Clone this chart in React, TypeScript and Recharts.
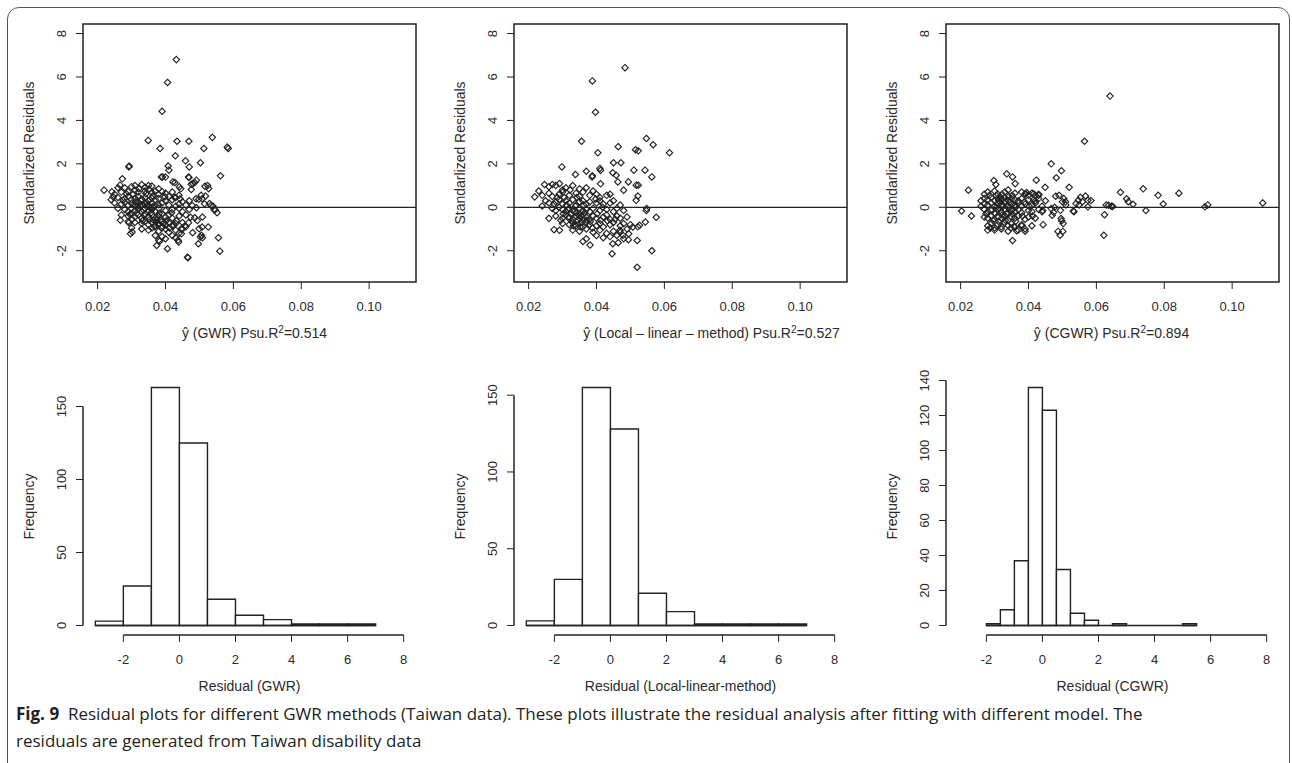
import React from 'react';
import {
  ScatterChart,
  Scatter,
  ComposedChart,
  XAxis,
  YAxis,
  ReferenceLine,
  ReferenceArea,
} from 'recharts';

const FONT = '"Liberation Sans", Arial, sans-serif';
const INK = '#222';

// axis ticks
const fittedTicks = [0.02, 0.04, 0.06, 0.08, 0.1];
const residTicks = [-2, 0, 2, 4, 6, 8];
const histXTicks = [-2, 0, 2, 4, 6, 8];
const gwrFreqTicks = [0, 50, 100, 150];
const llmFreqTicks = [0, 50, 100, 150];
const cgwrFreqTicks = [0, 20, 40, 60, 80, 100, 120, 140];

// fitted value (y-hat) vs standardized residual
const gwrPoints: [number, number][] = [
  [0.0432, 6.8], [0.0406, 5.75], [0.039, 4.42], [0.0349, 3.08], [0.0384, 2.71], [0.0434, 3.04],
  [0.0469, 3.04], [0.0538, 3.22], [0.0513, 2.71], [0.0585, 2.71], [0.0582, 2.77], [0.0429, 2.37],
  [0.0459, 2.14], [0.047, 1.86], [0.0503, 2.05], [0.0408, 1.9], [0.041, 1.71], [0.0292, 1.86],
  [0.0293, 1.9], [0.0388, 1.39], [0.04, 1.39], [0.0422, 1.17], [0.0469, 1.37], [0.0491, 1.25],
  [0.0481, 1.09], [0.0562, 1.45], [0.0273, 1.31], [0.0219, 0.79], [0.0524, 1.0], [0.0527, 0.86],
  [0.0445, 0.85], [0.0476, 0.82], [0.0518, 0.52], [0.0498, 0.37], [0.0508, 0.39], [0.053, 0.17],
  [0.054, 0.05], [0.0546, -0.11], [0.0552, -0.25], [0.0491, -0.02], [0.0509, -0.45], [0.0486, -0.48],
  [0.0526, -0.91], [0.0499, -0.99], [0.0506, -1.29], [0.0509, -1.4], [0.048, -1.17], [0.0497, -1.68],
  [0.0556, -1.4], [0.056, -2.02], [0.0465, -2.3], [0.0466, -2.32], [0.0406, -1.91], [0.0374, -1.76],
  [0.0383, -1.56], [0.0439, -1.6], [0.0297, -1.22], [0.0302, -1.14], [0.0267, -0.6], [0.0292, -0.71],
  [0.0447, -0.99], [0.0457, -0.86], [0.0266, 1.02], [0.0391, 1.4], [0.0428, 1.14], [0.0441, 0.94],
  [0.0468, 1.4], [0.0476, 1.06], [0.0486, 1.14], [0.0516, 0.97], [0.0505, 0.55], [0.049, 0.39],
  [0.0515, 0.16], [0.0534, 0.08], [0.0544, -0.12], [0.0479, 0.08], [0.0474, -0.46], [0.0494, -0.61],
  [0.0508, -0.91], [0.0503, -1.37], [0.038, -1.52], [0.0437, -1.52], [0.0447, -1.22], [0.0424, -0.83],
  [0.0468, -0.71], [0.0426, 0.46], [0.0443, 0.39], [0.0242, 0.71], [0.0246, 0.48],
  [0.031, 1.0], [0.033, 1.05], [0.035, 1.0], [0.03, 0.95], [0.036, 0.98], [0.028, 0.9], [0.034, 0.92],
  [0.038, 0.85], [0.037, 0.75], [0.026, 0.9],
  [0.025, 0.6], [0.027, 0.7], [0.029, 0.72], [0.031, 0.78], [0.032, 0.7], [0.034, 0.75], [0.036, 0.68],
  [0.038, 0.6], [0.04, 0.65], [0.042, 0.7], [0.044, 0.55], [0.039, 0.72], [0.041, 0.5],
  [0.024, 0.35], [0.026, 0.45], [0.028, 0.4], [0.029, 0.5], [0.03, 0.35], [0.031, 0.42], [0.032, 0.5],
  [0.033, 0.38], [0.034, 0.45], [0.035, 0.3], [0.036, 0.42], [0.037, 0.35], [0.038, 0.4], [0.04, 0.3],
  [0.042, 0.35], [0.043, 0.45], [0.045, 0.25], [0.047, 0.3],
  [0.025, 0.2], [0.027, 0.15], [0.028, 0.22], [0.029, 0.1], [0.03, 0.18], [0.031, 0.12], [0.032, 0.2],
  [0.033, 0.1], [0.034, 0.15], [0.035, 0.05], [0.036, 0.18], [0.037, 0.08], [0.038, 0.12], [0.039, 0.2],
  [0.041, 0.1], [0.043, 0.05], [0.044, 0.15], [0.046, 0.1],
  [0.026, -0.05], [0.028, -0.1], [0.029, -0.2], [0.03, -0.05], [0.031, -0.15], [0.032, -0.08],
  [0.033, -0.2], [0.034, -0.05], [0.035, -0.15], [0.036, -0.1], [0.037, -0.2], [0.038, -0.05],
  [0.04, -0.15], [0.042, -0.1], [0.044, -0.05], [0.045, -0.2], [0.047, -0.1],
  [0.027, -0.35], [0.029, -0.4], [0.03, -0.3], [0.031, -0.45], [0.032, -0.35], [0.033, -0.5],
  [0.034, -0.3], [0.035, -0.45], [0.036, -0.35], [0.037, -0.5], [0.038, -0.4], [0.039, -0.3],
  [0.04, -0.45], [0.041, -0.35], [0.042, -0.5], [0.044, -0.4], [0.046, -0.35],
  [0.029, -0.65], [0.031, -0.7], [0.033, -0.75], [0.034, -0.65], [0.035, -0.8], [0.036, -0.7],
  [0.037, -0.85], [0.038, -0.75], [0.039, -0.65], [0.04, -0.8], [0.041, -0.7], [0.042, -0.85],
  [0.043, -0.75], [0.045, -0.7], [0.046, -0.9],
  [0.03, -0.95], [0.033, -1.0], [0.035, -1.05], [0.036, -0.95], [0.038, -1.1], [0.04, -1.0],
  [0.041, -1.15], [0.043, -1.05], [0.044, -1.2], [0.045, -1.0],
  [0.037, -1.3], [0.039, -1.35], [0.042, -1.3], [0.04, -1.45], [0.043, -1.4],
  [0.0325, 0.05], [0.0335, -0.12], [0.0345, 0.22], [0.0315, -0.28], [0.0355, -0.02], [0.0328, 0.3],
  [0.0338, -0.38], [0.0348, 0.12], [0.0318, 0.05], [0.0358, -0.25],
  [0.0365, -0.6], [0.0372, -0.68], [0.0378, -0.82], [0.0385, -0.6], [0.0392, -0.9], [0.0368, -0.9],
  [0.0375, -0.55], [0.0395, -0.72],
  [0.0305, 0.6], [0.0322, 0.85], [0.0342, 0.62], [0.0362, 0.52], [0.0302, -0.55], [0.0312, 0.25],
  [0.0332, -0.62], [0.0352, -0.58], [0.0362, 0.02], [0.0382, -0.28], [0.0388, -0.95], [0.0402, -0.62],
  [0.0412, -0.95], [0.0285, 0.62], [0.0275, 0.32], [0.0295, -0.32], [0.0418, -0.25], [0.0432, -0.62],
  [0.0398, 0.48], [0.0352, 0.82],
];

const llmPoints: [number, number][] = [
  [0.0484, 6.43], [0.0388, 5.82], [0.0397, 4.38], [0.0356, 3.04], [0.0404, 2.51], [0.0547, 3.17],
  [0.0567, 2.88], [0.0464, 2.79], [0.0515, 2.65], [0.0523, 2.6], [0.0615, 2.51], [0.0298, 1.86],
  [0.0338, 1.51], [0.037, 1.66], [0.0387, 1.4], [0.0388, 1.45], [0.041, 1.79], [0.0412, 1.7],
  [0.045, 2.05], [0.0472, 2.05], [0.0448, 1.59], [0.0458, 1.48], [0.0463, 1.17], [0.051, 1.71],
  [0.0543, 1.71], [0.0563, 1.4], [0.0494, 1.17], [0.0517, 1.02], [0.0523, 1.02], [0.0412, 1.08],
  [0.048, 0.79], [0.0522, 0.52], [0.0517, 0.32], [0.0548, -0.06], [0.0547, -0.15], [0.0576, -0.46],
  [0.0544, -0.68], [0.0527, -0.83], [0.0522, -0.9], [0.052, -1.53], [0.0563, -2.0], [0.052, -2.76],
  [0.0446, -2.14], [0.0448, -1.68], [0.0464, -1.63], [0.0478, -1.29], [0.0494, -1.49], [0.036, -1.57],
  [0.0381, -1.74], [0.037, -1.45], [0.0275, -1.03], [0.0291, -1.06], [0.026, -0.51], [0.0218, 0.48],
  [0.023, 0.75], [0.0247, 1.05], [0.027, 1.05], [0.0291, 1.09], [0.024, 0.06], [0.0507, -0.91],
  [0.0495, -1.22], [0.0469, -1.06],
  [0.026, 0.95], [0.028, 1.0], [0.031, 0.9], [0.033, 1.0], [0.035, 0.85], [0.037, 0.9], [0.03, 0.8],
  [0.039, 0.75],
  [0.024, 0.55], [0.026, 0.65], [0.027, 0.5], [0.029, 0.6], [0.03, 0.7], [0.032, 0.55], [0.034, 0.65],
  [0.035, 0.5], [0.036, 0.7], [0.038, 0.55], [0.04, 0.6], [0.041, 0.45], [0.043, 0.55], [0.044, 0.6],
  [0.025, 0.3], [0.026, 0.2], [0.028, 0.25], [0.029, 0.35], [0.03, 0.15], [0.031, 0.3], [0.032, 0.2],
  [0.033, 0.35], [0.034, 0.1], [0.035, 0.25], [0.036, 0.3], [0.037, 0.15], [0.038, 0.25], [0.04, 0.2],
  [0.041, 0.3], [0.042, 0.15], [0.044, 0.2], [0.045, 0.3], [0.047, 0.1],
  [0.027, -0.05], [0.028, -0.15], [0.029, 0.0], [0.03, -0.1], [0.031, -0.2], [0.032, -0.05],
  [0.033, -0.15], [0.034, -0.25], [0.035, -0.05], [0.036, -0.15], [0.037, -0.1], [0.038, -0.2],
  [0.039, -0.05], [0.041, -0.15], [0.043, -0.1], [0.045, -0.2], [0.046, -0.05], [0.048, -0.15],
  [0.028, -0.4], [0.03, -0.5], [0.031, -0.35], [0.032, -0.45], [0.033, -0.55], [0.034, -0.4],
  [0.035, -0.5], [0.036, -0.35], [0.037, -0.45], [0.038, -0.55], [0.039, -0.4], [0.04, -0.5],
  [0.042, -0.45], [0.043, -0.35], [0.044, -0.55], [0.046, -0.4], [0.047, -0.5], [0.049, -0.45],
  [0.03, -0.75], [0.032, -0.8], [0.033, -0.7], [0.034, -0.85], [0.035, -0.75], [0.036, -0.9],
  [0.037, -0.7], [0.038, -0.8], [0.04, -0.85], [0.041, -0.75], [0.042, -0.9], [0.044, -0.8],
  [0.045, -0.7], [0.047, -0.85], [0.048, -0.75], [0.05, -0.8],
  [0.033, -1.05], [0.035, -1.1], [0.037, -1.0], [0.039, -1.15], [0.041, -1.05], [0.043, -1.2],
  [0.045, -1.1], [0.047, -1.15], [0.049, -1.0],
  [0.04, -1.3], [0.042, -1.4], [0.044, -1.35], [0.046, -1.3], [0.048, -1.45],
  [0.0325, -0.3], [0.0335, -0.2], [0.0345, -0.6], [0.0315, -0.1], [0.0355, -0.4], [0.0328, -0.65],
  [0.0338, 0.05], [0.0348, -0.35], [0.0318, -0.5], [0.0358, -0.7], [0.0365, -0.25], [0.0372, -0.6],
  [0.0305, 0.45], [0.0322, 0.8], [0.0342, 0.45], [0.0362, -0.55], [0.0302, -0.3], [0.0312, 0.1],
  [0.0332, -0.85], [0.0352, -0.9], [0.0362, 0.1], [0.0382, -0.65], [0.0388, -0.95], [0.0402, -0.3],
  [0.0412, -0.6], [0.0285, 0.45], [0.0275, 0.15], [0.0295, -0.6], [0.0418, 0.0], [0.0432, -0.62],
  [0.0398, 0.38], [0.0455, -0.55],
];

const cgwrPoints: [number, number][] = [
  [0.064, 5.12], [0.0565, 3.04], [0.0467, 2.0], [0.0497, 1.68], [0.0482, 1.36], [0.0336, 1.54],
  [0.0353, 1.4], [0.0361, 1.09], [0.0298, 1.23], [0.0304, 1.05], [0.0423, 1.25], [0.0449, 0.92],
  [0.052, 0.92], [0.0223, 0.79], [0.0203, -0.17], [0.0232, -0.4], [0.0671, 0.69], [0.0738, 0.85],
  [0.0689, 0.39], [0.0694, 0.26], [0.0708, 0.14], [0.0782, 0.55], [0.0843, 0.65], [0.0797, 0.15],
  [0.0746, -0.15], [0.0629, 0.11], [0.0644, 0.05], [0.0624, -0.34], [0.0622, -1.29], [0.092, 0.02],
  [0.0928, 0.11], [0.109, 0.2], [0.0575, 0.32], [0.0584, 0.31], [0.0568, 0.52], [0.0553, 0.46],
  [0.0547, 0.32], [0.054, 0.17], [0.0532, -0.17], [0.0509, 0.25], [0.0504, 0.4], [0.048, 0.51],
  [0.049, 0.55], [0.0477, 0.0], [0.0467, -0.06], [0.0494, -0.14], [0.0496, -0.52], [0.0502, -0.75],
  [0.047, -0.37], [0.0487, -1.11], [0.0501, -1.11], [0.0493, -1.29], [0.0443, -0.8], [0.0353, -1.53],
  [0.042, 0.55], [0.0415, 0.62], [0.0575, 0.02], [0.0391, 0.63], [0.0395, 0.68], [0.043, 0.55],
  [0.0442, -0.15], [0.0474, -0.23], [0.0498, -0.62], [0.0365, -1.08], [0.0357, -0.89], [0.038, -0.85],
  [0.0534, -0.2], [0.0549, 0.11], [0.0559, 0.26], [0.051, 0.11], [0.05, 0.26], [0.0636, 0.09],
  [0.0648, 0.04],
  [0.027, 0.6], [0.028, 0.7], [0.03, 0.75], [0.031, 0.6], [0.033, 0.7], [0.034, 0.8], [0.036, 0.65],
  [0.038, 0.7], [0.039, 0.6], [0.04, 0.55], [0.041, 0.65], [0.043, 0.6],
  [0.026, 0.3], [0.027, 0.4], [0.028, 0.35], [0.029, 0.45], [0.03, 0.3], [0.031, 0.4], [0.032, 0.35],
  [0.033, 0.45], [0.034, 0.3], [0.035, 0.4], [0.036, 0.35], [0.037, 0.3], [0.038, 0.4], [0.04, 0.35],
  [0.042, 0.3], [0.043, 0.4], [0.045, 0.3],
  [0.026, 0.05], [0.027, 0.15], [0.028, 0.1], [0.029, 0.2], [0.03, 0.05], [0.031, 0.15], [0.032, 0.1],
  [0.033, 0.2], [0.034, 0.05], [0.035, 0.15], [0.036, 0.1], [0.037, 0.2], [0.038, 0.05], [0.039, 0.15],
  [0.041, 0.1], [0.042, 0.2], [0.044, 0.05],
  [0.027, -0.1], [0.028, -0.2], [0.029, -0.15], [0.03, -0.25], [0.031, -0.1], [0.032, -0.2],
  [0.033, -0.1], [0.034, -0.25], [0.035, -0.15], [0.036, -0.2], [0.037, -0.1], [0.038, -0.25],
  [0.04, -0.15], [0.041, -0.2], [0.043, -0.1], [0.044, -0.2],
  [0.027, -0.45], [0.028, -0.5], [0.029, -0.4], [0.03, -0.55], [0.031, -0.45], [0.032, -0.5],
  [0.033, -0.4], [0.034, -0.6], [0.035, -0.45], [0.036, -0.5], [0.037, -0.4], [0.039, -0.55],
  [0.04, -0.45], [0.042, -0.5],
  [0.028, -0.85], [0.029, -0.75], [0.03, -0.95], [0.031, -0.8], [0.032, -0.9], [0.033, -0.7],
  [0.034, -0.85], [0.035, -0.75], [0.036, -0.9], [0.038, -0.8], [0.039, -1.0], [0.041, -0.85],
  [0.028, -1.05], [0.03, -1.05], [0.032, -1.0], [0.034, -1.1], [0.037, -1.05], [0.039, -1.1],
  [0.0305, 0.0], [0.0315, -0.05], [0.0325, 0.05], [0.0335, -0.3], [0.0345, 0.25], [0.0312, 0.3],
  [0.0322, -0.35], [0.0332, 0.28], [0.0342, -0.05], [0.0352, -0.3], [0.0302, -0.3], [0.0318, 0.45],
  [0.0305, 0.55], [0.0322, 0.6], [0.0342, 0.5], [0.0362, -0.65], [0.0295, -0.6], [0.0312, -0.65],
  [0.0332, -0.6], [0.0352, 0.55], [0.0362, 0.0], [0.0382, -0.4], [0.0388, 0.25], [0.0402, 0.05],
  [0.0412, -0.4], [0.0285, 0.55], [0.0275, -0.3], [0.0415, 0.35], [0.0288, -0.95], [0.0348, -0.95],
];

// histogram breaks and counts
const gwrBreaks = [-3, -2, -1, 0, 1, 2, 3, 4, 5, 6, 7];
const gwrCounts = [3, 27, 163, 125, 18, 7, 4, 1, 1, 1];
const llmBreaks = [-3, -2, -1, 0, 1, 2, 3, 4, 5, 6, 7];
const llmCounts = [3, 30, 155, 128, 21, 9, 1, 1, 1, 1];
const cgwrBreaks = [-2, -1.5, -1, -0.5, 0, 0.5, 1, 1.5, 2, 2.5, 3, 3.5, 4, 4.5, 5, 5.5];
const cgwrCounts = [1, 9, 37, 136, 123, 32, 7, 3, 0, 1, 0, 0, 0, 0, 1];

const FITTED_DOMAIN: [number, number] = [0.0157, 0.1138];
const RESID_DOMAIN: [number, number] = [-3.44, 8.44];
const HIST_X_DOMAIN: [number, number] = [-3.44, 8.44];

const textStyle = { fontFamily: FONT, fill: '#2b2b2b' };

const XTick = (props: any) => {
  const { x, y, payload, fmt } = props;
  return (
    <text x={x} y={y} dy="0.71em" textAnchor="middle" fontSize={13} {...textStyle}>
      {fmt ? fmt(payload.value) : payload.value}
    </text>
  );
};

const YTick = (props: any) => {
  const { x, y, payload } = props;
  return (
    <text x={x} y={y} transform={`rotate(-90 ${x} ${y})`} textAnchor="middle" fontSize={13} {...textStyle}>
      {payload.value}
    </text>
  );
};

const Diamond = (props: any) => {
  const { cx, cy } = props;
  const r = 3.2;
  return (
    <path
      d={`M${cx},${cy - r}L${cx + r},${cy}L${cx},${cy + r}L${cx - r},${cy}Z`}
      fill="none"
      stroke="#222"
      strokeWidth={1.15}
    />
  );
};

const yTitle = (title: string) => (p: any) => {
  const vb = p.viewBox;
  const cx = vb.x + 34;
  const cy = vb.y + vb.height / 2;
  return (
    <text x={cx} y={cy} transform={`rotate(-90 ${cx} ${cy})`} textAnchor="middle" fontSize={14} {...textStyle}>
      {title}
    </text>
  );
};

const fittedTitle = (method: string, r2: string, dx: number) => (p: any) => {
  const vb = p.viewBox;
  return (
    <text x={vb.x + vb.width / 2 + dx} y={vb.y + 56} textAnchor="middle" fontSize={14} {...textStyle}>
      <tspan>{`ŷ (${method}) Psu.R`}</tspan>
      <tspan dy={-5} fontSize={10}>2</tspan>
      <tspan dy={5}>{`=${r2}`}</tspan>
    </text>
  );
};

const plainXTitle = (title: string) => (p: any) => {
  const vb = p.viewBox;
  return (
    <text x={vb.x + vb.width / 2} y={vb.y + 56} textAnchor="middle" fontSize={14} {...textStyle}>
      {title}
    </text>
  );
};

function ResidualScatter({ points, left, method, r2, dx }: any) {
  const data = points.map(([x, y]: [number, number]) => ({ x, y }));
  return (
    <div style={{ position: 'absolute', left, top: 0 }}>
      <ScatterChart width={430} height={350} margin={{ top: 24, right: 14, bottom: 18, left: 0 }}>
        <XAxis
          type="number"
          dataKey="x"
          domain={FITTED_DOMAIN}
          ticks={fittedTicks}
          interval={0}
          allowDataOverflow
          height={50}
          axisLine={false}
          tickSize={7}
          tickMargin={13}
          tickLine={{ stroke: INK }}
          tick={(p: any) => <XTick {...p} fmt={(v: number) => v.toFixed(2)} />}
          label={{ content: fittedTitle(method, r2, dx) }}
        />
        <YAxis
          type="number"
          dataKey="y"
          domain={RESID_DOMAIN}
          ticks={residTicks}
          interval={0}
          allowDataOverflow
          width={83}
          axisLine={false}
          tickSize={7}
          tickMargin={10}
          tickLine={{ stroke: INK }}
          tick={(p: any) => <YTick {...p} />}
          label={{ content: yTitle('Standarlized Residuals') }}
        />
        <ReferenceArea
          x1={FITTED_DOMAIN[0]}
          x2={FITTED_DOMAIN[1]}
          y1={RESID_DOMAIN[0]}
          y2={RESID_DOMAIN[1]}
          fill="none"
          stroke={INK}
          strokeWidth={1.5}
          ifOverflow="visible"
        />
        <ReferenceLine y={0} stroke={INK} strokeWidth={1.3} />
        <Scatter data={data} isAnimationActive={false} shape={Diamond} />
      </ScatterChart>
    </div>
  );
}

function ResidualHistogram({ breaks, counts, freqTicks, left, title }: any) {
  const maxCount = Math.max(...counts);
  const yDomain: [number, number] = [-0.04 * maxCount, 1.04 * maxCount];
  const bins = counts.map((c: number, i: number) => ({ lo: breaks[i], hi: breaks[i + 1], count: c }));
  const data = bins.map((b: any) => ({ mid: (b.lo + b.hi) / 2, count: b.count }));
  const topTick = freqTicks[freqTicks.length - 1];
  return (
    <div style={{ position: 'absolute', left, top: 350 }}>
      <ComposedChart width={430} height={350} data={data} margin={{ top: 28, right: 14, bottom: 15, left: 0 }}>
        <XAxis
          type="number"
          dataKey="mid"
          domain={HIST_X_DOMAIN}
          ticks={histXTicks}
          interval={0}
          allowDataOverflow
          height={50}
          axisLine={false}
          tickSize={7}
          tickMargin={13}
          tickLine={{ stroke: INK }}
          tick={(p: any) => <XTick {...p} />}
          label={{ content: plainXTitle(title) }}
        />
        <YAxis
          type="number"
          dataKey="count"
          domain={yDomain}
          ticks={freqTicks}
          interval={0}
          allowDataOverflow
          width={83}
          axisLine={false}
          tickSize={7}
          tickMargin={10}
          tickLine={{ stroke: INK }}
          tick={(p: any) => <YTick {...p} />}
          label={{ content: yTitle('Frequency') }}
        />
        <ReferenceLine
          segment={[{ x: histXTicks[0], y: yDomain[0] }, { x: histXTicks[histXTicks.length - 1], y: yDomain[0] }]}
          stroke={INK}
          strokeWidth={1.5}
          ifOverflow="visible"
        />
        <ReferenceLine
          segment={[{ x: HIST_X_DOMAIN[0], y: 0 }, { x: HIST_X_DOMAIN[0], y: topTick }]}
          stroke={INK}
          strokeWidth={1.5}
          ifOverflow="visible"
        />
        <ReferenceLine
          segment={[{ x: breaks[0], y: 0 }, { x: breaks[breaks.length - 1], y: 0 }]}
          stroke={INK}
          strokeWidth={1.3}
          ifOverflow="visible"
        />
        {bins.map((b: any, i: number) =>
          b.count > 0 ? (
            <ReferenceArea
              key={i}
              x1={b.lo}
              x2={b.hi}
              y1={0}
              y2={b.count}
              fill="#fff"
              fillOpacity={1}
              stroke={INK}
              strokeWidth={1.4}
              ifOverflow="visible"
            />
          ) : null
        )}
      </ComposedChart>
    </div>
  );
}

export default function App() {
  return (
    <div
      style={{
        position: 'fixed',
        left: 0,
        top: 0,
        width: 1292,
        height: 763,
        overflow: 'hidden',
        background: '#fff',
      }}
    >
      <div
        style={{
          position: 'absolute',
          left: 7,
          top: 7,
          width: 1281,
          height: 820,
          border: '1px solid #555',
          borderRadius: 12,
        }}
      />
      <ResidualScatter points={gwrPoints} left={0} method="GWR" r2="0.514" dx={5} />
      <ResidualScatter points={llmPoints} left={431} method="Local – linear – method" r2="0.527" dx={31} />
      <ResidualScatter points={cgwrPoints} left={863} method="CGWR" r2="0.894" dx={-1} />
      <ResidualHistogram breaks={gwrBreaks} counts={gwrCounts} freqTicks={gwrFreqTicks} left={0} title="Residual (GWR)" />
      <ResidualHistogram
        breaks={llmBreaks}
        counts={llmCounts}
        freqTicks={llmFreqTicks}
        left={431}
        title="Residual (Local-linear-method)"
      />
      <ResidualHistogram breaks={cgwrBreaks} counts={cgwrCounts} freqTicks={cgwrFreqTicks} left={863} title="Residual (CGWR)" />
      <div
        style={{
          position: 'absolute',
          left: 16,
          top: 700,
          fontFamily: '"Open Sans", "Noto Sans", sans-serif',
          fontSize: 17,
          lineHeight: '27px',
          color: '#231f20',
          whiteSpace: 'nowrap',
        }}
      >
        <b>Fig. 9</b>&nbsp; Residual plots for different GWR methods (Taiwan data). These plots illustrate the residual
        analysis after fitting with different model. The
        <br />
        residuals are generated from Taiwan disability data
      </div>
    </div>
  );
}
